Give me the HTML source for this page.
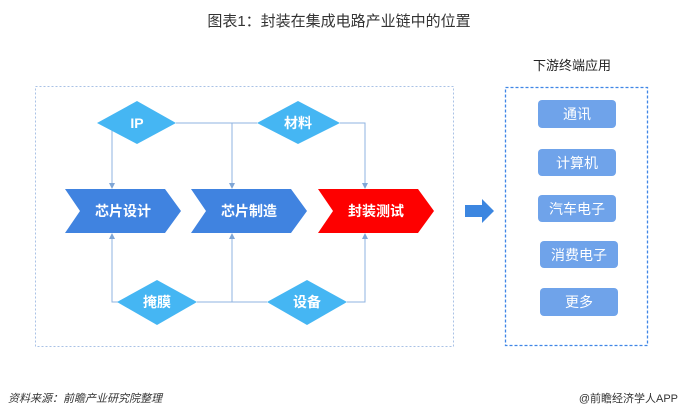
<!DOCTYPE html>
<html><head><meta charset="utf-8"><style>
body{margin:0;background:#fff}
svg{display:block}
text{font-family:"Liberation Sans","Noto Sans CJK SC",sans-serif}
</style></head><body>
<svg width="680" height="417" viewBox="0 0 680 417" xmlns="http://www.w3.org/2000/svg">
<defs><marker id="a" markerWidth="6" markerHeight="6" refX="3" refY="3" orient="auto"><path d="M0,0 L6,3 L0,6z" fill="#7fa6d6"/></marker></defs>
<text x="339" y="26" font-size="15" text-anchor="middle" fill="#333">图表1：封装在集成电路产业链中的位置</text>
<rect x="35.5" y="86.5" width="418" height="260" fill="none" stroke="#a9c2e6" stroke-dasharray="2,2"/>
<g stroke="#8fb3e0" stroke-width="1" fill="none">
<polyline points="100,123 112,123 112,186" marker-end="url(#a)"/>
<line x1="176" y1="123" x2="257" y2="123"/>
<line x1="232" y1="123" x2="232" y2="186" marker-end="url(#a)"/>
<polyline points="340,123 365,123 365,186" marker-end="url(#a)"/>
<polyline points="120,302 112,302 112,236" marker-end="url(#a)"/>
<line x1="197" y1="302" x2="267" y2="302"/>
<line x1="232" y1="302" x2="232" y2="236" marker-end="url(#a)"/>
<polyline points="347,302 365,302 365,236" marker-end="url(#a)"/>
</g>
<g fill="#45b6f3">
<polygon points="97,123 137,101 176,123 137,144"/>
<polygon points="257,123 298,101 340,123 298,144"/>
<polygon points="117,302 157,280 197,302 157,325"/>
<polygon points="267,302 307,280 347,302 307,325"/>
</g>
<g fill="#fff" font-size="14" font-weight="bold" text-anchor="middle">
<text x="137" y="128">IP</text><text x="298" y="128">材料</text>
<text x="157" y="307">掩膜</text><text x="307" y="307">设备</text>
</g>
<polygon points="65,189 165,189 181,211 165,233 65,233 80,211" fill="#4083e0"/>
<polygon points="191,189 291,189 307,211 291,233 191,233 206,211" fill="#4083e0"/>
<polygon points="318,189 418,189 434,211 418,233 318,233 333,211" fill="#fe0000"/>
<g fill="#fff" font-size="14" font-weight="bold" text-anchor="middle">
<text x="123" y="216">芯片设计</text><text x="249" y="216">芯片制造</text><text x="376" y="216">封装测试</text>
</g>
<polygon points="465,205 482,205 482,199 494,211 482,223 482,217 465,217" fill="#3c86e0"/>
<text x="572" y="70" font-size="13" text-anchor="middle" fill="#222">下游终端应用</text>
<rect x="505.5" y="87.5" width="142" height="258" fill="none" stroke="#3f86e6" stroke-width="1.3" stroke-dasharray="3,2"/>
<g fill="#6fa3ea">
<rect x="538" y="100" width="78" height="28" rx="4"/>
<rect x="538" y="149" width="78" height="27" rx="4"/>
<rect x="538" y="195" width="78" height="27" rx="4"/>
<rect x="540" y="241" width="78" height="27" rx="4"/>
<rect x="540" y="288" width="78" height="28" rx="4"/>
</g>
<g fill="#fff" font-size="14" text-anchor="middle">
<text x="577" y="119">通讯</text><text x="577" y="168">计算机</text><text x="577" y="214">汽车电子</text>
<text x="579" y="260">消费电子</text><text x="579" y="307">更多</text>
</g>
<text x="8" y="402" font-size="11" font-style="italic" fill="#333">资料来源：前瞻产业研究院整理</text>
<text x="678" y="402" font-size="11" text-anchor="end" fill="#333">@前瞻经济学人APP</text>
</svg>
</body></html>
